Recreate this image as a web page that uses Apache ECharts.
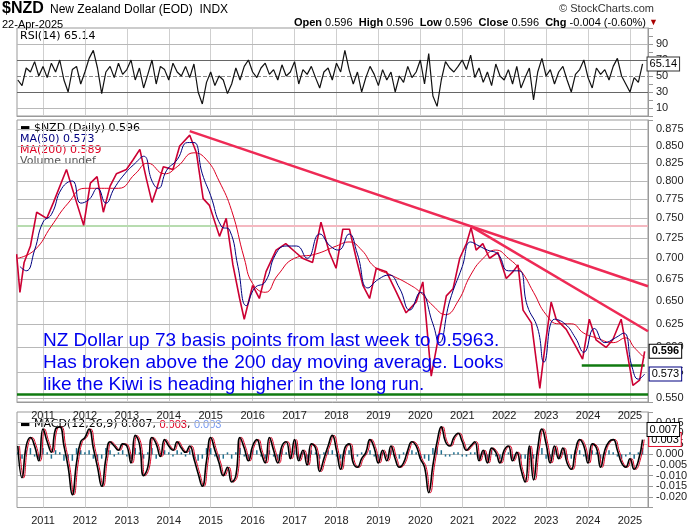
<!DOCTYPE html>
<html>
<head>
<meta charset="utf-8">
<script src="https://cdn.jsdelivr.net/npm/echarts@6/dist/echarts.min.js"></script>
<style>html,body{margin:0;background:#fff}#c{width:700px;height:530px}</style>
</head>
<body>
<div id="c"></div>
<script>
// price readings [year, close]
const priceYears = [2010.37,2010.45,2010.55,2010.7,2010.85,2011.09,2011.25,2011.56,2011.8,2011.97,2012.13,2012.29,2012.44,2012.6,2012.75,2012.99,2013.15,2013.31,2013.47,2013.6,2013.71,2013.87,2014.1,2014.26,2014.5,2014.66,2014.82,2014.97,2015.21,2015.37,2015.53,2015.69,2015.8,2016.0,2016.16,2016.32,2016.56,2016.79,2017.03,2017.19,2017.43,2017.63,2017.83,2017.99,2018.15,2018.31,2018.47,2018.63,2018.79,2018.95,2019.19,2019.43,2019.66,2019.9,2020.06,2020.26,2020.42,2020.62,2020.78,2020.94,2021.1,2021.21,2021.33,2021.49,2021.65,2021.85,2022.05,2022.21,2022.33,2022.45,2022.65,2022.85,2022.97,2023.12,2023.24,2023.48,2023.72,2023.87,2024.03,2024.19,2024.43,2024.59,2024.79,2024.91,2025.07,2025.23,2025.35];
const priceVals = [0.705,0.66,0.695,0.715,0.758,0.75,0.771,0.816,0.771,0.741,0.797,0.806,0.758,0.793,0.81,0.816,0.83,0.845,0.802,0.771,0.789,0.82,0.816,0.85,0.866,0.84,0.776,0.767,0.727,0.75,0.692,0.653,0.63,0.668,0.653,0.684,0.71,0.718,0.707,0.70,0.695,0.745,0.707,0.688,0.736,0.736,0.70,0.668,0.653,0.688,0.684,0.66,0.637,0.649,0.672,0.571,0.608,0.656,0.664,0.70,0.718,0.738,0.71,0.718,0.70,0.707,0.676,0.684,0.692,0.64,0.626,0.559,0.60,0.649,0.63,0.619,0.60,0.588,0.63,0.608,0.60,0.608,0.63,0.60,0.562,0.567,0.596];
const ma50Years = [2010.45,2010.6,2010.8,2011.0,2011.2,2011.45,2011.7,2011.9,2012.1,2012.3,2012.5,2012.7,2012.95,2013.2,2013.4,2013.6,2013.75,2013.95,2014.2,2014.45,2014.6,2014.8,2015.0,2015.25,2015.45,2015.65,2015.85,2016.05,2016.3,2016.55,2016.8,2017.05,2017.3,2017.6,2017.85,2018.05,2018.3,2018.5,2018.75,2019.0,2019.25,2019.5,2019.75,2020.0,2020.3,2020.45,2020.7,2021.0,2021.2,2021.4,2021.6,2021.85,2022.1,2022.35,2022.55,2022.8,2022.95,2023.2,2023.45,2023.7,2023.9,2024.15,2024.4,2024.65,2024.85,2025.05,2025.2,2025.35];
const ma50Vals = [0.69,0.685,0.71,0.745,0.755,0.79,0.80,0.77,0.775,0.79,0.77,0.79,0.81,0.825,0.835,0.80,0.79,0.815,0.83,0.855,0.855,0.81,0.78,0.74,0.735,0.69,0.645,0.665,0.672,0.705,0.715,0.715,0.70,0.73,0.715,0.71,0.73,0.705,0.665,0.675,0.68,0.665,0.64,0.66,0.625,0.605,0.65,0.69,0.72,0.715,0.71,0.705,0.685,0.685,0.645,0.62,0.585,0.63,0.625,0.61,0.595,0.62,0.605,0.61,0.615,0.58,0.568,0.573];
const ma200Years = [2010.4,2010.8,2011.2,2011.6,2012.0,2012.4,2012.8,2013.2,2013.5,2013.9,2014.2,2014.6,2014.9,2015.2,2015.5,2015.8,2016.0,2016.3,2016.6,2017.0,2017.5,2018.0,2018.3,2018.6,2018.9,2019.3,2019.7,2020.0,2020.3,2020.6,2020.9,2021.2,2021.5,2021.8,2022.1,2022.4,2022.7,2023.0,2023.3,2023.6,2023.9,2024.2,2024.6,2024.9,2025.1,2025.35];
const ma200Vals = [0.70,0.71,0.74,0.77,0.79,0.79,0.79,0.81,0.825,0.81,0.82,0.84,0.83,0.80,0.76,0.70,0.67,0.66,0.68,0.70,0.705,0.715,0.72,0.71,0.69,0.68,0.67,0.66,0.645,0.635,0.65,0.68,0.70,0.71,0.70,0.685,0.66,0.635,0.625,0.625,0.615,0.61,0.605,0.61,0.60,0.589];
// indicator readings every 0.1 year from 2010.4
const indStart = 2010.4;
const rsiVals = [45,38,60,55,68,50,62,48,66,55,70,45,30,58,62,40,55,72,82,60,28,55,62,48,66,52,58,70,45,60,35,52,70,40,62,58,45,66,55,50,62,48,65,30,15,42,55,38,50,45,28,40,60,45,62,70,55,48,60,66,52,58,45,64,50,55,68,40,58,52,62,48,35,55,60,45,66,55,82,58,40,55,30,48,62,52,38,58,45,55,30,50,42,62,48,55,70,40,78,25,12,45,68,60,55,62,70,58,76,48,60,42,55,38,65,50,45,58,40,62,35,48,60,20,55,72,50,58,40,55,62,45,30,52,58,70,48,35,60,52,58,45,62,72,50,40,30,48,42,65.14];
const macdVals = [0.004,-0.011,0.004,0.008,0.004,-0.003,0.012,0.006,0.001,0.012,0.013,0.004,-0.006,-0.019,-0.004,0.006,0.008,0.012,0.003,-0.006,-0.015,-0.002,0.006,0.004,0.002,0.005,0.004,-0.004,0.009,0.005,-0.01,-0.006,0.008,0.005,-0.001,0.007,0.004,0.002,0.006,0.003,0.001,0.004,-0.002,-0.009,-0.015,-0.003,0.008,0.002,-0.004,-0.01,-0.006,-0.013,-0.01,0.008,0.003,-0.003,0.004,0.007,0.001,-0.004,0.008,0.002,-0.004,0.004,0.006,-0.002,0.007,-0.003,0.002,-0.005,0.005,0.003,-0.008,-0.002,0.004,0.009,0.002,-0.007,0.003,0.005,-0.004,-0.006,-0.002,0.001,0.007,0.003,-0.004,0.002,-0.003,0.004,-0.002,-0.006,-0.004,0.002,0.006,0.004,-0.002,-0.006,-0.018,-0.005,0.006,0.013,0.006,0.004,0.008,0.01,0.006,0.002,0.004,0.006,-0.003,0.002,-0.004,0.003,0.001,-0.004,0.002,0.004,-0.003,0.001,-0.007,-0.013,0.004,-0.012,0.003,0.012,0.005,-0.004,0.004,-0.002,0.003,-0.004,-0.007,0.002,0.007,0.004,-0.004,0.005,0.003,-0.006,0.002,0.006,0.007,0.002,-0.004,-0.006,-0.002,-0.007,-0.003,0.007];
const histVals = [0.001,-0.002,0.002,0.003,-0.001,-0.002,0.003,0.001,-0.002,0.002,0.001,-0.003,-0.002,-0.003,0.003,0.002,0.001,0.002,-0.002,-0.003,-0.002,0.003,0.002,-0.001,0.001,0.002,-0.001,-0.002,0.003,0.001,-0.002,0.001,0.003,-0.002,-0.001,0.002,0.001,-0.001,0.002,0.001,-0.001,0.002,-0.002,-0.003,-0.002,0.003,0.003,-0.001,-0.002,-0.002,0.001,-0.002,0.001,0.003,-0.001,-0.002,0.002,0.002,-0.001,-0.002,0.002,-0.001,-0.002,0.002,0.001,-0.002,0.002,-0.002,0.001,-0.002,0.002,0.001,-0.002,0.001,0.002,0.002,-0.001,-0.002,0.002,0.002,-0.002,-0.001,0.001,0.001,0.002,-0.001,-0.002,0.001,-0.001,0.002,-0.001,-0.002,0.001,0.002,0.002,0.001,-0.002,-0.002,-0.003,0.003,0.003,0.002,-0.001,-0.001,0.001,0.001,-0.001,-0.001,0.001,0.001,-0.002,0.001,-0.002,0.002,-0.001,-0.002,0.001,0.001,-0.002,0.001,-0.002,-0.002,0.003,-0.002,0.003,0.003,-0.002,-0.002,0.002,-0.002,0.001,-0.002,-0.002,0.002,0.002,-0.001,-0.002,0.002,0.001,-0.002,0.001,0.002,0.001,-0.001,-0.002,-0.001,0.001,-0.002,0.001,0.003];
const yearTicks = [2011,2012,2013,2014,2015,2016,2017,2018,2019,2020,2021,2022,2023,2024,2025];
const priceTicks = [0.55,0.575,0.6,0.625,0.65,0.675,0.7,0.725,0.75,0.775,0.8,0.825,0.85,0.875];
const rsiTicks = [10,30,50,70,90];
const macdTicks = [-0.02,-0.015,-0.01,-0.005,0,0.005,0.01,0.015];
const trendA = [[2014.5,0.872],[2025.43,0.667]];
const trendB = [[2021.2,0.74],[2025.43,0.617]];

const X0 = 2010.38, X1 = 2025.43;
const pair = (xs, vs) => xs.map((x, i) => [x, vs[i]]);
const ind = (vs, shift) => vs.map((v, i) => [+(indStart + i * 0.1 + (shift || 0)).toFixed(3), v]);
const vgrid = '#cfcfcf', hgrid = '#b8b8b8', lab = { color: '#222', fontSize: 11, fontFamily: 'Arial' };
// horizontal grid lines drawn as coordinate-pair mark lines
const hLines = ticks => ticks.map(t => [
  { coord: [X0, t], lineStyle: { color: hgrid, width: 1.2, type: 'solid' } }, { coord: [X1, t] }]);

const xAx = (gi, show) => ({
  type: 'value', gridIndex: gi, min: X0, max: X1,
  axisLine: { lineStyle: { color: '#999' } },
  axisTick: { show: false, customValues: yearTicks },
  axisLabel: show ? { ...lab, customValues: yearTicks, formatter: v => String(v) } : { show: false, customValues: yearTicks },
  splitLine: { show: true, lineStyle: { color: vgrid } },
});
const box = (txt, color, bold) => ({
  show: true, formatter: txt, distance: 5, color: '#000', fontSize: 11, fontWeight: bold ? 'bold' : 'normal',
  backgroundColor: '#fff', borderColor: color, borderWidth: 1, padding: [1, 2],
});
const gridMark = ticks => ({ silent: true, symbol: 'none', label: { show: false }, z: 1, data: hLines(ticks) });

const chart = echarts.init(document.getElementById('c'));
chart.setOption({
  animation: false,
  backgroundColor: '#fff',
  grid: [
    { left: 17, right: 52, top: 28, height: 88, show: true, borderColor: '#999' },
    { left: 17, right: 52, top: 120, height: 282, show: true, borderColor: '#999' },
    { left: 17, right: 52, top: 412, height: 95.5, show: true, borderColor: '#999' },
  ],
  xAxis: [xAx(0, false), xAx(1, true), xAx(2, true)],
  yAxis: [
    { gridIndex: 0, position: 'right', type: 'value', min: 0, max: 110, interval: 10,
      axisLine: { show: true, lineStyle: { color: '#999' } },
      axisLabel: { ...lab, formatter: v => rsiTicks.includes(v) ? String(v) : '' },
      splitLine: { show: false } },
    { gridIndex: 1, position: 'right', type: 'log', min: 0.546, max: 0.889,
      axisLine: { show: true, lineStyle: { color: '#999' } },
      splitLine: { show: false },
      axisLabel: { ...lab, customValues: priceTicks, formatter: v => v.toFixed(3), hideOverlap: false } },
    { gridIndex: 2, position: 'right', type: 'value', min: -0.025, max: 0.02, interval: 0.005,
      axisLine: { show: true, lineStyle: { color: '#999' } },
      axisLabel: { ...lab, hideOverlap: false, formatter: v => (v > 0.0175 || v < -0.0225) ? '' : v.toFixed(3) },
      splitLine: { show: false } },
  ],
  series: [
    { type: 'line', xAxisIndex: 0, yAxisIndex: 0, data: ind(rsiVals), symbol: 'none',
      lineStyle: { color: '#111', width: 1.2 }, z: 3,
      endLabel: box('65.14', '#333'),
      markLine: { silent: true, symbol: 'none', label: { show: false }, z: 1,
        data: [...hLines([10, 90]),
               [{ coord: [X0, 70], lineStyle: { color: '#666', type: 'solid', width: 1.2 } }, { coord: [X1, 70] }],
               [{ coord: [X0, 30], lineStyle: { color: '#666', type: 'solid', width: 1.2 } }, { coord: [X1, 30] }],
               [{ coord: [X0, 50], lineStyle: { color: '#888', type: 'dashed', width: 1 } }, { coord: [X1, 50] }]] } },
    { type: 'line', xAxisIndex: 1, yAxisIndex: 1, data: pair(priceYears, priceVals), symbol: 'none',
      lineStyle: { color: '#cc0033', width: 1.6 }, z: 3,
      endLabel: box('0.596', '#000', true),
      markLine: { silent: true, symbol: 'none', label: { show: false }, z: 1,
        data: [
          ...hLines(priceTicks),
          [{ coord: [X0, 0.74], lineStyle: { color: '#b8dcb0', width: 2, type: 'solid' } }, { coord: [2015.2, 0.74] }],
          [{ coord: [2015.2, 0.74], lineStyle: { color: '#f4b8c0', width: 2, type: 'solid' } }, { coord: [X1, 0.74] }],
          [{ coord: [X0, 0.553], lineStyle: { color: '#107a10', width: 2.5, type: 'solid' } }, { coord: [X1, 0.553] }],
          [{ coord: [2023.85, 0.582], lineStyle: { color: '#107a10', width: 2.5, type: 'solid' } }, { coord: [2025.35, 0.582] }],
        ] } },
    { type: 'line', xAxisIndex: 1, yAxisIndex: 1, data: pair(ma200Years, ma200Vals), symbol: 'none', smooth: true,
      lineStyle: { color: '#dd0022', width: 1 }, z: 4 },
    { type: 'line', xAxisIndex: 1, yAxisIndex: 1, data: pair(ma50Years, ma50Vals), symbol: 'none', smooth: true,
      lineStyle: { color: '#000080', width: 1 }, z: 4, endLabel: box('0.573', '#000080') },
    { type: 'line', xAxisIndex: 1, yAxisIndex: 1, data: trendA, symbol: 'none', lineStyle: { color: '#ee2a55', width: 2.5 }, z: 5 },
    { type: 'line', xAxisIndex: 1, yAxisIndex: 1, data: trendB, symbol: 'none', lineStyle: { color: '#ee2a55', width: 2.5 }, z: 5 },
    { type: 'bar', xAxisIndex: 2, yAxisIndex: 2, data: ind(histVals), barWidth: 1.5, itemStyle: { color: '#1f6f8f' },
      markLine: gridMark(macdTicks) },
    { type: 'line', xAxisIndex: 2, yAxisIndex: 2, data: ind(macdVals, 0.04), symbol: 'none', smooth: true,
      lineStyle: { color: '#dd0022', width: 1 }, endLabel: box('0.003', '#dd0022') },
    { type: 'line', xAxisIndex: 2, yAxisIndex: 2, data: ind(macdVals), symbol: 'none', smooth: true,
      lineStyle: { color: '#000', width: 1.6 }, endLabel: { ...box('0.007', '#000'), offset: [0, -10] } },
  ],
  graphic: [
    { type: 'text', left: 2, top: 1, style: { text: '$NZD', font: 'bold 16px Arial', fill: '#000' } },
    { type: 'text', left: 50, top: 4, style: { text: 'New Zealand Dollar (EOD)  INDX', font: '12px Arial', fill: '#000' } },
    { type: 'text', left: 2, top: 19, style: { text: '22-Apr-2025', font: '11px Arial', fill: '#000' } },
    { type: 'text', right: 46, top: 3, style: { text: '© StockCharts.com', font: '11px Arial', fill: '#333' } },
    { type: 'text', right: 42, top: 17, style: {
      text: '{b|Open} 0.596  {b|High} 0.596  {b|Low} 0.596  {b|Close} 0.596  {b|Chg} -0.004 (-0.60%) {r|▼}',
      font: '11px Arial', fill: '#000', rich: { b: { fontWeight: 'bold', fontSize: 11 }, r: { fill: '#a00', fontSize: 9 } } } },
    { type: 'text', left: 20, top: 31, style: { text: 'RSI(14) 65.14', font: '11px "DejaVu Sans"', fill: '#000' } },
    { type: 'text', left: 20, top: 123, style: { text: '▬ $NZD (Daily) 0.596', font: '11px "DejaVu Sans"', fill: '#000' } },
    { type: 'text', left: 20, top: 134, style: { text: 'MA(50) 0.573', font: '11px "DejaVu Sans"', fill: '#000080' } },
    { type: 'text', left: 20, top: 145, style: { text: 'MA(200) 0.589', font: '11px "DejaVu Sans"', fill: '#dd0022' } },
    { type: 'text', left: 20, top: 156, style: { text: 'Volume undef', font: '11px "DejaVu Sans"', fill: '#555' } },
    { type: 'text', left: 20, top: 419, style: {
      text: '▬ MACD(12,26,9) 0.007, {r|0.003}, {b|0.003}', font: '11px "DejaVu Sans"', fill: '#000',
      rich: { r: { fill: '#dd0022', fontSize: 11 }, b: { fill: '#7799ee', fontSize: 11 } } } },
    { type: 'text', left: 43, top: 330, z: 100, style: {
      text: 'NZ Dollar up 73 basis points from last week to 0.5963.\nHas broken above the 200 day moving average. Looks\nlike the Kiwi is heading higher in the long run.',
      font: '19px "Liberation Sans"', fill: '#0000ee', lineHeight: 22 } },
  ],
});
</script>
</body>
</html>
